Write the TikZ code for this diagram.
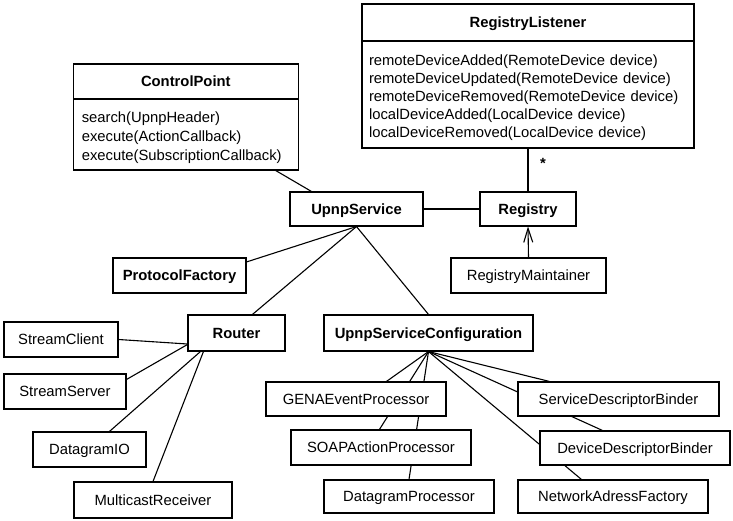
\documentclass[tikz,border=0pt]{standalone}
\usepackage{fontspec}
\setmainfont{Liberation Sans}
\usetikzlibrary{calc,backgrounds,arrows.meta}
\begin{document}
\begin{tikzpicture}[x=1pt,y=-1pt,
  txt/.style={font=\fontsize{14.8}{18}\selectfont},
  box/.style={txt,draw,fill=white,line width=1.1pt,inner sep=0pt,minimum height=35pt,text height=10.6pt,text depth=0pt},
  bbox/.style={box,font=\fontsize{14.8}{18}\selectfont\bfseries},
  body/.style={txt,draw,fill=white,line width=1.1pt,inner ysep=0pt,align=left},
  conn/.style={line width=1.1pt}]
\useasboundingbox (0,0) rectangle (733,521);
% RegistryListener
\node[bbox,minimum width=332pt,minimum height=37pt] (rlt) at (528,22.5) {RegistryListener};
\node[body,minimum width=332pt,minimum height=107pt,inner xsep=7pt,text width=318pt] (rlb) at (528,94.5)
 {\rule{0pt}{17pt}remoteDeviceAdded(RemoteDevice device)\\remoteDeviceUpdated(RemoteDevice device)\\remoteDeviceRemoved(RemoteDevice device)\\localDeviceAdded(LocalDevice device)\\localDeviceRemoved(LocalDevice device)};
% ControlPoint
\node[bbox,minimum width=225pt,minimum height=35pt] (cpt) at (185.8,81.5) {ControlPoint};
\node[body,minimum width=225pt,minimum height=71pt,inner xsep=8.5pt,text width=208pt,
  font=\fontsize{14.8}{18.6}\selectfont] (cpb) at (185.8,134.5)
 {\rule{0pt}{17pt}search(UpnpHeader)\\execute(ActionCallback)\\execute(SubscriptionCallback)};
% middle
\node[bbox,minimum width=133pt,minimum height=34pt] (us) at (356.5,209) {UpnpService};
\node[bbox,minimum width=96pt,minimum height=34pt] (reg) at (528,209) {Registry};
\node[box,minimum width=155pt] (rm) at (528.5,275.5) {RegistryMaintainer};
\node[bbox,minimum width=133pt] (pf) at (179.5,275.5) {ProtocolFactory};
\node[bbox,minimum width=97pt,minimum height=36pt] (router) at (236.5,333) {Router};
\node[bbox,minimum width=209pt,minimum height=36pt] (usc) at (428.5,333) {UpnpServiceConfiguration};
% router children
\node[box,minimum width=114pt] (sc) at (61,339.5) {StreamClient};
\node[box,minimum width=122pt] (ss) at (65,391.5) {StreamServer};
\node[box,minimum width=113pt] (dio) at (89.5,449.5) {DatagramIO};
\node[box,minimum width=158pt,minimum height=36pt] (mr) at (153,500) {MulticastReceiver};
% configuration children
\node[box,minimum width=180pt,minimum height=34pt] (gena) at (356,399) {GENAEventProcessor};
\node[box,minimum width=180pt] (soap) at (381,447.5) {SOAPActionProcessor};
\node[box,minimum width=170pt,minimum height=33pt] (dp) at (409,496.5) {DatagramProcessor};
\node[box,minimum width=201pt,minimum height=34pt] (sdb) at (618.5,399) {ServiceDescriptorBinder};
\node[box,minimum width=190pt,minimum height=34pt] (ddb) at (635,448) {DeviceDescriptorBinder};
\node[box,minimum width=190pt,minimum height=33pt] (naf) at (613,496.5) {NetworkAdressFactory};
% multiplicity
\node[txt,font=\fontsize{14.8}{18}\selectfont\bfseries,inner sep=0pt] (star) at (543,163) {*};
\begin{pgfonlayer}{background}
\draw[conn] (reg.north) -- (rlb.south);
\draw[conn,-{Straight Barb[length=14pt,width=9pt]}] (rm.north) -- (reg.south);
\draw[conn] (us.east) -- (reg.west);
\draw[conn] ($(cpb.south west)+(203,0)$) -- ($(us.north west)+(22,0)$);
\draw[conn] (us.south) -- ($(pf.north east)+(0,4.5)$);
\draw[conn] (us.south) -- ($(router.north west)+(65,0)$);
\draw[conn] (us.south) -- (usc.north);
\draw[conn] (sc.east) -- ($(router.west)+(0,11)$);
\draw[conn] ($(ss.north east)+(0,6)$) -- ($(router.west)+(0,11.5)$);
\draw[conn] ($(dio.north west)+(77,0)$) -- ($(router.south west)+(13,0)$);
\draw[conn] (mr.north) -- ($(router.south west)+(16,0)$);
\draw[conn] (usc.south) -- ($(gena.north west)+(121,0)$);
\draw[conn] (usc.south) -- ($(soap.north west)+(89,0)$);
\draw[conn] (usc.south) -- (dp.north);
\draw[conn] (usc.south) -- ($(sdb.north west)+(32,0)$);
\draw[conn] (usc.south) -- ($(ddb.north west)+(63,0)$);
\draw[conn] (usc.south) -- ($(naf.north west)+(64,0)$);
\end{pgfonlayer}
\end{tikzpicture}
\end{document}
